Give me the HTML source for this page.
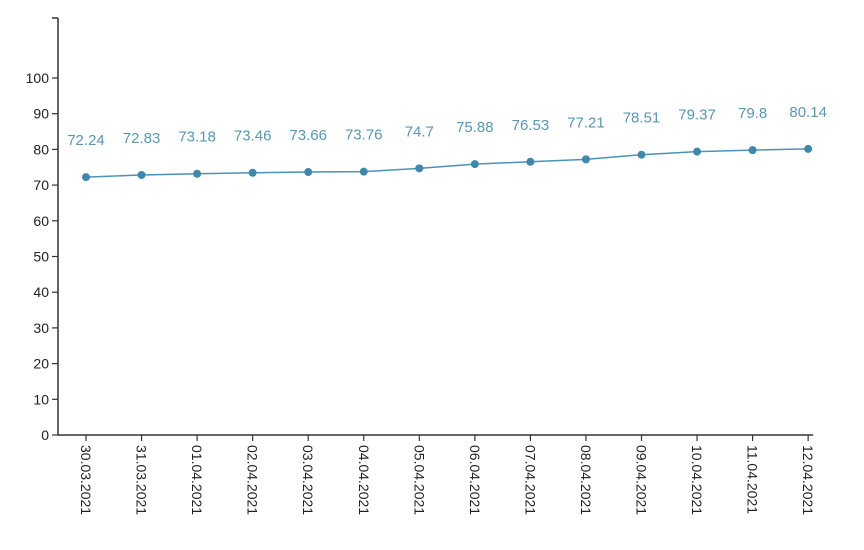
<!DOCTYPE html>
<html><head><meta charset="utf-8"><style>
body{margin:0;background:#fff;}
svg{display:block;font-family:"Liberation Sans",sans-serif;}
</style></head><body>
<svg width="864" height="550" viewBox="0 0 864 550">
<g id="axes"></g><g id="series"></g>
</svg>
<script>
const categories=["30.03.2021","31.03.2021","01.04.2021","02.04.2021","03.04.2021","04.04.2021","05.04.2021","06.04.2021","07.04.2021","08.04.2021","09.04.2021","10.04.2021","11.04.2021","12.04.2021"];
const values=[72.24,72.83,73.18,73.46,73.66,73.76,74.7,75.88,76.53,77.21,78.51,79.37,79.8,80.14];
const yTicks=[0,10,20,30,40,50,60,70,80,90,100];
const NS="http://www.w3.org/2000/svg";
const x0=58,y0=435,yTop=18;
function yScale(v){return y0-v*3.57;}
function xScale(i){return 86+i*55.55;}
function mk(tag,attrs,parent,text){const e=document.createElementNS(NS,tag);for(const k in attrs)e.setAttribute(k,attrs[k]);if(text!==undefined)e.textContent=text;parent.appendChild(e);return e;}
const ax=document.getElementById('axes'),se=document.getElementById('series');
let e=mk('line',{x1:x0,y1:yTop,x2:x0,y2:y0,stroke:'#333','stroke-width':1.5},ax);


mk('line',{x1:x0,y1:yTop,x2:x0-6,y2:yTop,stroke:'#333','stroke-width':1.5},ax);
e=mk('line',{x1:x0,y1:y0,x2:xScale(categories.length-1)+5,y2:y0,stroke:'#333','stroke-width':1.5},ax);


yTicks.forEach(v=>{const y=yScale(v);
mk('line',{x1:x0-6,y1:y,x2:x0,y2:y,stroke:'#333','stroke-width':1.2},ax);
const t=mk('text',{x:x0-9,y:y+5,'text-anchor':'end','font-size':14,fill:'#222'},ax,v);

});
categories.forEach((c,i)=>{const x=xScale(i);
mk('line',{x1:x,y1:y0,x2:x,y2:y0+6,stroke:'#333','stroke-width':1.2},ax);
const t=mk('text',{x:0,y:0,transform:`translate(${x-5},${y0+10}) rotate(90)`,'font-size':14,fill:'#222'},ax,c);

});
const pts=values.map((v,i)=>xScale(i)+','+yScale(v)).join(' ');
e=mk('polyline',{points:pts,fill:'none',stroke:'#4a93b5','stroke-width':1.5},se);


values.forEach((v,i)=>{const x=xScale(i),y=yScale(v);
const c=mk('circle',{cx:x,cy:y,r:4,fill:'#3f87ab'},se);


const t=mk('text',{x:x,y:y-32,'text-anchor':'middle','font-size':15,fill:'#5b95b0'},se,v);

});
</script>
</body></html>
